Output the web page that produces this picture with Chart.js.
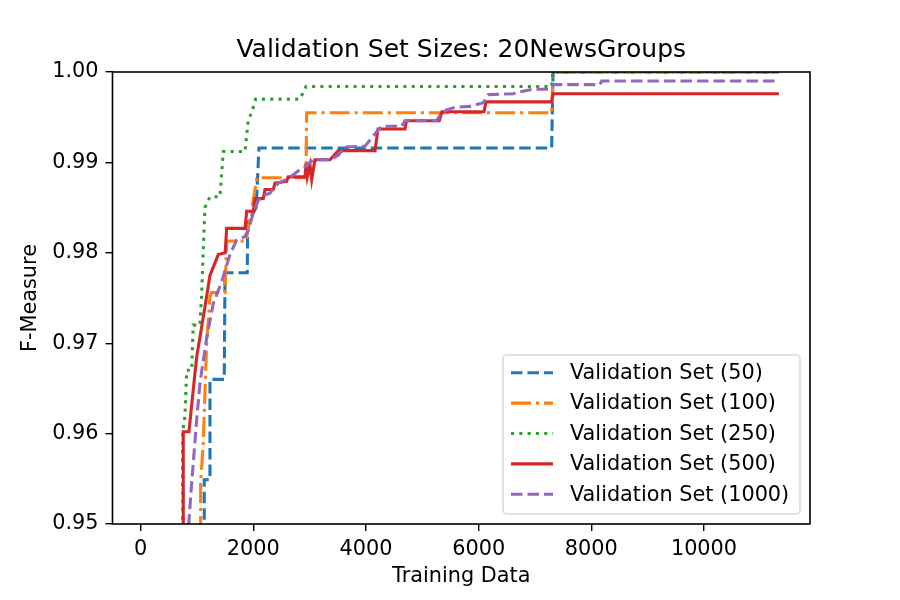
<!DOCTYPE html>
<html>
<head>
<meta charset="utf-8">
<script src="https://cdn.jsdelivr.net/npm/chart.js@4/dist/chart.umd.min.js"></script>
<style>
  body { margin: 0; background: #fff; }
  canvas { display: block; }
</style>
</head>
<body>
<canvas id="chart" width="900" height="600"></canvas>
<script>
const chartTitle = 'Validation Set Sizes: 20NewsGroups'
const xTitle = 'Training Data'
const yTitle = 'F-Measure'

const xTicks = [0, 2000, 4000, 6000, 8000, 10000]
const yTicks = [0.95, 0.96, 0.97, 0.98, 0.99, 1.00]

const labels = ['Validation Set (50)', 'Validation Set (100)', 'Validation Set (250)', 'Validation Set (500)', 'Validation Set (1000)']

// values (points below 0.95 are clipped in the original)
const x50 = [1129, 1129, 1230, 1230, 1484, 1497, 1892, 1900, 2050, 2100, 7296, 7320, 11331]
const y50 = [0.945, 0.9549, 0.9549, 0.9660, 0.9660, 0.9778, 0.9778, 0.9833, 0.9850, 0.9916, 0.9916, 1.0, 1.0]

const x100 = [1065, 1065, 1111, 1172, 1230, 1260, 1497, 1527, 1870, 1976, 2065, 2935, 2947, 7296, 7320, 11331]
const y100 = [0.945, 0.9545, 0.9590, 0.9700, 0.9751, 0.9756, 0.9756, 0.9813, 0.9813, 0.9850, 0.9883, 0.9883, 0.9955, 0.9955, 1.0, 1.0]

const x250 = [746, 746, 786, 817, 905, 934, 1053, 1083, 1111, 1141, 1230, 1408, 1466, 1852, 1910, 1971, 2040, 2828, 2935, 7296, 7320, 11331]
const y250 = [0.945, 0.9602, 0.9619, 0.9670, 0.9670, 0.9720, 0.9720, 0.9755, 0.9803, 0.9850, 0.9862, 0.9862, 0.9912, 0.9912, 0.9947, 0.9955, 0.9970, 0.9970, 0.9984, 0.9984, 1.0, 1.0]

const x500 = [756, 756, 857, 964, 1000, 1141, 1230, 1378, 1500, 1527, 1852, 1882, 1999, 2029, 2176, 2207, 2354, 2384, 2592, 2620,
  2917, 2935, 2958, 3006, 3036, 3094, 3361, 3508, 4159, 4213, 4692, 4720, 5301, 5349, 6095, 6130, 7296, 7320, 11331]
const y500 = [0.945, 0.9602, 0.9602, 0.9667, 0.9687, 0.9740, 0.9775, 0.9798, 0.9800, 0.9827, 0.9827, 0.9846, 0.9846, 0.9860, 0.9860, 0.9870, 0.9870, 0.9877, 0.9879, 0.9884,
  0.9884, 0.9899, 0.9884, 0.9897, 0.9881, 0.9903, 0.9903, 0.9913, 0.9913, 0.9937, 0.9937, 0.9946, 0.9946, 0.9956, 0.9956, 0.9967, 0.9967, 0.9976, 0.9976]

const x1000 = [830, 905, 994, 1053, 1172, 1289, 1438, 1585, 1704, 1852, 1910, 1999, 2088, 2207, 2295, 2354, 2443, 2620, 2828, 2917,
  3064, 3361, 3508, 3627, 3982, 4101, 4190, 4278, 4633, 4692, 5255, 5313, 5432, 5580, 5846, 6082, 6171, 6615, 6733, 6970,
  7266, 7325, 8154, 8184, 11319]
const y1000 = [0.948, 0.9545, 0.9615, 0.9656, 0.9706, 0.9744, 0.9768, 0.9798, 0.9814, 0.9818, 0.9825, 0.9844, 0.9858, 0.9864, 0.9866, 0.9871, 0.9877, 0.9882, 0.9892, 0.9895,
  0.9903, 0.9903, 0.9908, 0.9917, 0.9918, 0.9927, 0.9934, 0.9940, 0.9940, 0.9946, 0.9946, 0.9952, 0.9958, 0.9961, 0.9962, 0.9966, 0.9975, 0.9976, 0.9978, 0.9981,
  0.9981, 0.9986, 0.9986, 0.9990, 0.9990]

const colors = ['#1f77b4', '#ff7f0e', '#2ca02c', '#d62728', '#9467bd']
const lw = 3.1
const dashes = [[11.5, 5], [20, 5, 3.1, 5], [3.1, 5.2], [], [11.5, 5]]

const FONT = '"DejaVu Sans", sans-serif'
Chart.defaults.font.family = FONT
Chart.defaults.color = '#000'

const toPoints = (xs, ys) => xs.map((x, i) => ({ x: x, y: ys[i] }))
const series = [[x50, y50], [x100, y100], [x250, y250], [x500, y500], [x1000, y1000]]

const datasets = series.map((s, i) => ({
  label: labels[i],
  data: toPoints(s[0], s[1]),
  showLine: true,
  borderColor: colors[i],
  backgroundColor: colors[i],
  borderWidth: lw,
  borderDash: dashes[i],
  pointRadius: 0,
  tension: 0,
  fill: false,
  clip: 0,
  order: 5 - i,
}))

// frame, title and the in-axes legend, matplotlib style
const mplDecor = {
  id: 'mplDecor',
  afterDatasetsDraw(chart) {
    const { ctx, chartArea: a } = chart
    ctx.save()
    ctx.strokeStyle = '#000'
    ctx.lineWidth = 1.6
    ctx.setLineDash([])
    ctx.strokeRect(a.left, a.top, a.right - a.left, a.bottom - a.top)

    ctx.fillStyle = '#000'
    ctx.font = '25px ' + FONT
    ctx.textAlign = 'center'
    ctx.textBaseline = 'alphabetic'
    ctx.fillText(chartTitle, (a.left + a.right) / 2, a.top - 15)

    const boxW = 297, boxH = 159
    const bx = a.right - 10 - boxW
    const by = a.bottom - 10 - boxH
    ctx.beginPath()
    ctx.roundRect(bx, by, boxW, boxH, 4)
    ctx.fillStyle = 'rgba(255,255,255,0.8)'
    ctx.fill()
    ctx.strokeStyle = 'rgba(204,204,204,0.8)'
    ctx.lineWidth = 1.5
    ctx.stroke()

    ctx.font = '20.8px ' + FONT
    ctx.textAlign = 'left'
    ctx.textBaseline = 'middle'
    labels.forEach((lab, i) => {
      const ry = by + 17.7 + i * 30.4
      ctx.beginPath()
      ctx.strokeStyle = colors[i]
      ctx.lineWidth = lw
      ctx.setLineDash(dashes[i])
      ctx.moveTo(bx + 8, ry)
      ctx.lineTo(bx + 50, ry)
      ctx.stroke()
      ctx.setLineDash([])
      ctx.fillStyle = '#000'
      ctx.fillText(lab, bx + 67, ry + 1)
    })
    ctx.restore()
  },
}

const tickFont = { size: 20.8, family: FONT }

new Chart(document.getElementById('chart'), {
  type: 'scatter',
  data: { datasets: datasets },
  plugins: [mplDecor],
  options: {
    responsive: false,
    animation: false,
    devicePixelRatio: 1,
    layout: { padding: { top: 72, right: 90, left: 0, bottom: 0 } },
    plugins: { legend: { display: false }, tooltip: { enabled: false } },
    scales: {
      x: {
        type: 'linear',
        min: -500,
        max: 11882,
        afterBuildTicks: (s) => { s.ticks = xTicks.map((v) => ({ value: v })) },
        afterFit: (s) => { s.height = 76 },
        ticks: { font: tickFont, color: '#000', padding: 6, maxRotation: 0, autoSkip: false, callback: (v) => String(v) },
        grid: { drawOnChartArea: false, drawTicks: true, tickLength: 7, color: '#000', lineWidth: 1.4 },
        border: { display: false },
        title: { display: true, text: xTitle, font: tickFont, color: '#000', padding: { top: 0, bottom: 10.5 } },
      },
      y: {
        type: 'linear',
        min: 0.95,
        max: 1.0,
        afterBuildTicks: (s) => { s.ticks = yTicks.map((v) => ({ value: v })) },
        afterFit: (s) => { s.width = 112.5 },
        ticks: { font: tickFont, color: '#000', padding: 7, callback: (v) => v.toFixed(2) },
        grid: { drawOnChartArea: false, drawTicks: true, tickLength: 7, color: '#000', lineWidth: 1.4 },
        border: { display: false },
        title: { display: true, text: yTitle, font: tickFont, color: '#000', padding: { top: 18.5, bottom: 0 } },
      },
    },
  },
})
</script>
</body>
</html>
